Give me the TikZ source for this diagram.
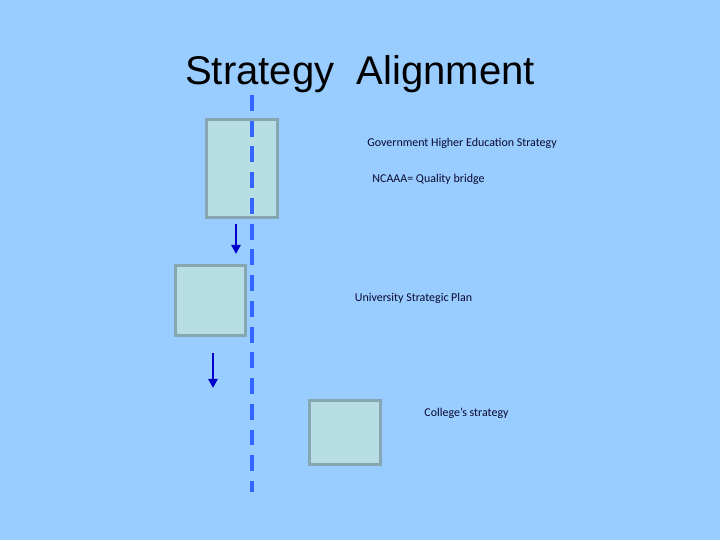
\documentclass[tikz,border=0pt]{standalone}
\usepackage{fontspec}
\setmainfont{Carlito}
\newfontfamily\titlefont{Liberation Sans}
\usetikzlibrary{arrows.meta, positioning}
\definecolor{SlideBlue}{RGB}{153, 204, 255}
\definecolor{BoxFill}{RGB}{183, 222, 226}
\definecolor{BoxEdge}{RGB}{134, 166, 178}
\definecolor{AxisBlue}{RGB}{51, 102, 255}
\definecolor{ArrowBlue}{RGB}{0, 0, 204}
\definecolor{TextNavy}{RGB}{10, 10, 50}

\begin{document}
\begin{tikzpicture}[
    x=0.025cm, y=-0.025cm,
    sbox/.style={draw=BoxEdge, fill=BoxFill, line width=2.1pt, rectangle, inner sep=0pt},
    lbl/.style={font=\fontsize{8.5}{10}\selectfont, text=TextNavy, inner sep=0pt},
    arrow/.style={-{Triangle[length=6.5pt, width=6.5pt]}, line width=1.9pt, color=ArrowBlue}
]
\fill[SlideBlue] (0,0) rectangle (720,540);
\useasboundingbox (0,0) rectangle (720,540);
\node[font=\titlefont\fontsize{28.5}{34}\selectfont, inner sep=0pt, anchor=base] (title) at (360,84) {Strategy\ \ Alignment};
% boxes
\node[sbox, minimum width=1.775cm, minimum height=2.45cm] (gov) at (242,168.5) {};
\node[sbox, minimum width=1.75cm, minimum height=1.75cm] (uni) at (210.5,300.5) {};
\node[sbox, minimum width=1.775cm, minimum height=1.6cm] (col) at (345,432.5) {};
% dashed axis
\coordinate (axtop) at (252,95);
\coordinate (axbot) at (252,492);
\draw[AxisBlue, line width=2.8pt, dash pattern=on 11.3pt off 7pt] (axtop) -- (axbot);
% labels
\node[lbl] (govtxt) at (462,143) {Government Higher Education Strategy};
\node[lbl] (ncaaa) at (428.5,179) {NCAAA= Quality bridge};
\node[lbl] (unitxt) at (413.5,298) {University Strategic Plan};
\node[lbl] (coltxt) at (466.5,413) {College’s strategy};
% arrows
\coordinate (a1s) at (236,224);
\coordinate (a1e) at (236,254);
\coordinate (a2s) at (213,353);
\coordinate (a2e) at (213,388);
\draw[arrow] (a1s) -- (a1e);
\draw[arrow] (a2s) -- (a2e);
\end{tikzpicture}
\end{document}
